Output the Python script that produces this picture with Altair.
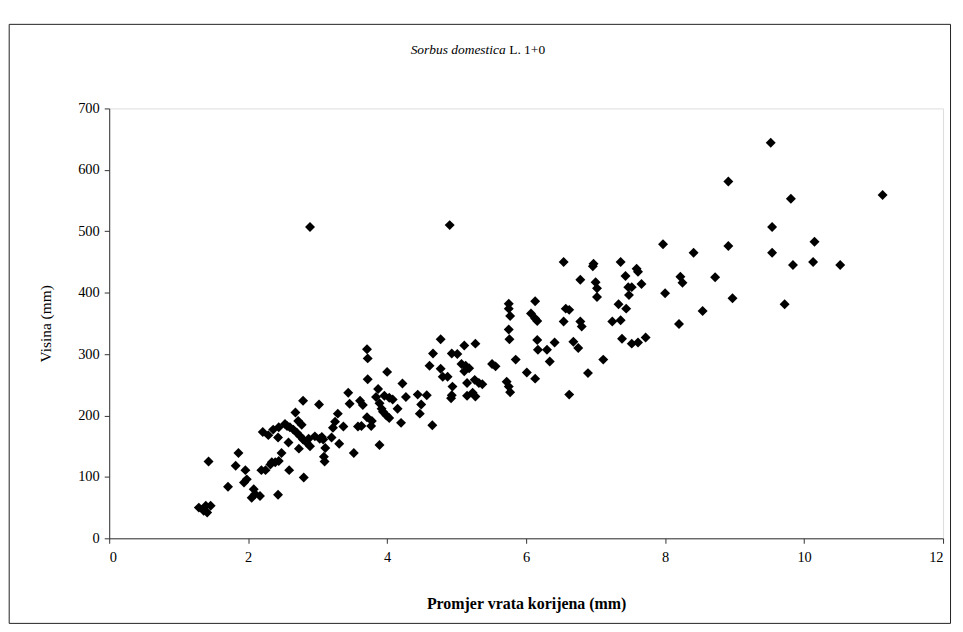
import altair as alt
import pandas as pd

# Root collar diameter (mm) and height (mm)
diameter = [
    1.29, 1.36, 1.39, 1.41, 1.46, 1.43,
    1.71, 1.82, 1.86, 1.94, 1.96, 1.98, 2.05, 2.08, 2.10, 2.17,
    2.19, 2.25, 2.21, 2.29, 2.36, 2.44, 2.43, 2.32, 2.34, 2.39, 2.44, 2.48, 2.43, 2.53, 2.60, 2.56,
    2.58, 2.59, 2.65, 2.70, 2.75, 2.79, 2.84, 2.68, 2.72, 2.77, 2.73, 2.89, 2.79, 2.80, 2.96, 2.87, 2.89, 3.02,
    3.03, 3.08, 3.06, 3.09, 3.10, 3.11, 3.20, 3.31, 3.22, 3.25, 3.29, 3.37, 3.44, 3.46, 3.52,
    3.58, 3.63, 3.61, 3.65, 3.71, 3.72, 3.72, 3.71, 3.78, 3.77, 3.87, 3.84, 3.89, 3.92, 3.94, 3.99, 4.03,
    3.89, 4.00, 3.96, 4.03, 4.08,
    4.15, 4.20, 4.22, 4.27, 4.44, 4.57, 4.49, 4.47, 4.65, 4.61, 4.66, 4.77, 4.77, 4.80, 4.87, 4.93, 5.01,
    4.94, 4.93, 4.92, 4.90,
    5.07, 5.13, 5.18, 5.11, 5.11, 5.27, 5.15, 5.26, 5.32, 5.37, 5.15, 5.23, 5.27, 5.51, 5.56, 5.72, 5.75,
    5.77, 5.75, 5.75, 5.77, 5.75, 5.76, 5.85,
    6.01, 6.13, 6.13, 6.07, 6.13, 6.16, 6.16, 6.17, 6.30, 6.41, 6.34, 6.54, 6.57, 6.62, 6.54, 6.62, 6.68,
    6.75, 6.78, 6.78, 6.80, 6.89, 6.97, 6.96,
    7.00, 7.02, 7.02, 7.11, 7.24, 7.36, 7.33, 7.44, 7.36, 7.43, 7.59, 7.61, 7.47, 7.52, 7.48, 7.66, 7.38,
    7.52, 7.61, 7.72, 7.97, 8.00,
    8.20, 8.22, 8.25, 8.41, 8.54, 8.72, 8.91, 8.91, 8.97, 9.52, 9.54, 9.54, 9.72, 9.81, 9.84, 10.15, 10.13,
    10.52, 11.13,
]
height = [
    50, 45, 53, 42, 53, 125,
    84, 118, 139, 91, 111, 96, 66, 80, 72, 69,
    111, 111, 173, 168, 177, 181, 164, 120, 124, 124, 126, 139, 71, 186, 181, 183,
    156, 111, 177, 172, 166, 161, 156, 205, 191, 185, 146, 150, 224, 99, 166, 162, 507, 218,
    162, 161, 165, 133, 125, 147, 164, 154, 180, 190, 203, 182, 237, 219, 139,
    182, 183, 224, 217, 308, 293, 259, 197, 191, 183, 243, 230, 220, 211, 206, 200, 196,
    152, 271, 232, 229, 226,
    211, 188, 252, 230, 234, 233, 218, 203, 184, 281, 301, 324, 276, 263, 263, 301, 300,
    247, 233, 228, 510,
    284, 281, 277, 272, 314, 317, 253, 258, 253, 251, 232, 237, 231, 284, 280, 255, 247,
    238, 382, 374, 362, 340, 324, 291,
    270, 260, 386, 366, 358, 354, 323, 307, 307, 319, 288, 450, 374, 372, 353, 234, 320,
    310, 421, 353, 345, 269, 447, 443,
    417, 407, 393, 291, 353, 355, 381, 374, 450, 427, 439, 434, 409, 409, 396, 414, 325,
    317, 319, 327, 479, 399,
    349, 426, 416, 465, 370, 425, 581, 476, 391, 644, 507, 465, 381, 553, 445, 483, 450,
    445, 559,
]

x_ticks = [0, 2, 4, 6, 8, 10, 12]
y_ticks = [0, 100, 200, 300, 400, 500, 600, 700]

df = pd.DataFrame({"d": diameter, "h": height})

FONT = "Liberation Serif"
W, H = 838, 432

points = alt.Chart(df).mark_point(
    shape="diamond", filled=True, size=100, color="black", opacity=1
).encode(
    x=alt.X(
        "d:Q",
        scale=alt.Scale(domain=[0, 12], nice=False, zero=True),
        axis=alt.Axis(
            values=x_ticks, title="Promjer vrata korijena (mm)", grid=False,
            domainColor="#333333", tickColor="#333333", tickSize=5,
            labelFont=FONT, labelFontSize=14.5, labelColor="black", labelPadding=7,
            titleFont=FONT, titleFontSize=16, titleFontWeight="bold", titleColor="black",
            titlePadding=32,
        ),
    ),
    y=alt.Y(
        "h:Q",
        scale=alt.Scale(domain=[0, 700], nice=False),
        axis=alt.Axis(
            values=y_ticks, title="Visina (mm)", grid=False,
            domainColor="#333333", tickColor="#333333", tickSize=5,
            labelFont=FONT, labelFontSize=14.5, labelColor="black", labelPadding=5,
            titleFont=FONT, titleFontSize=15.5, titleFontWeight="normal", titleColor="black",
            titlePadding=24,
        ),
    ),
)

frame = alt.Chart(pd.DataFrame({"a": [0]})).mark_rect(
    fill=None, stroke="#222222", strokeWidth=1
).encode(
    x=alt.value(-100.5), x2=alt.value(845.5), y=alt.value(-84.5), y2=alt.value(517.5)
)

title_it = alt.Chart(pd.DataFrame({"t": ["Sorbus domestica"]})).mark_text(
    font=FONT, fontSize=13.5, fontStyle="italic", align="right", baseline="middle", color="black"
).encode(text="t:N", x=alt.value(398.5), y=alt.value(-59))

title_rm = alt.Chart(pd.DataFrame({"t": ["L. 1+0"]})).mark_text(
    font=FONT, fontSize=13.5, align="left", baseline="middle", color="black"
).encode(text="t:N", x=alt.value(402), y=alt.value(-59))

chart = alt.layer(frame, points, title_it, title_rm).properties(
    width=W, height=H,
    autosize=alt.AutoSizeParams(type="none"),
    padding={"left": 101.7, "top": 99.4, "right": 12, "bottom": 90},
).configure_view(stroke=None).configure(background="white")

chart.save("out.html", embed_options={"renderer": "svg", "actions": False})
